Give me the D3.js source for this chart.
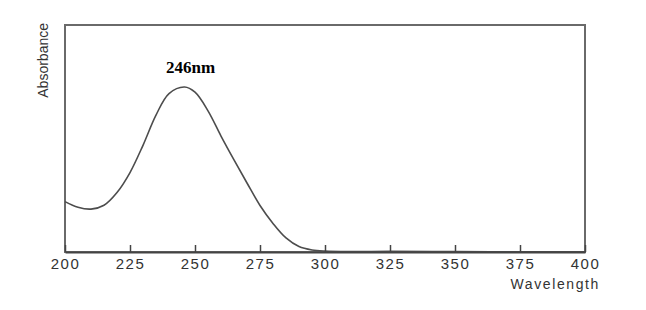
<!DOCTYPE html>
<html>
<head>
<meta charset="utf-8">
<script src="https://cdn.jsdelivr.net/npm/d3@7"></script>
<style>
  body { margin: 0; background: #fff; }
  svg { display: block; }
</style>
</head>
<body>
<script>
// spectrum
const wavelength = [200, 205, 210, 215, 220, 225, 230, 235, 240, 246, 250, 255, 260, 265, 270, 275, 280, 285, 290, 295, 300, 310, 325, 350, 375, 400];
const absorbance = [0.222, 0.197, 0.189, 0.206, 0.262, 0.350, 0.470, 0.603, 0.698, 0.727, 0.704, 0.622, 0.511, 0.406, 0.304, 0.205, 0.126, 0.062, 0.024, 0.009, 0.004, 0.002, 0.003, 0.002, 0.001, 0.001];
const xTicks = [200, 225, 250, 275, 300, 325, 350, 375, 400];
const peakLabel = "246nm";
const peakAt = 246;

var width = 646;
var height = 310;
var margin = {top: 25, right: 61, bottom: 58, left: 65};

var svg = d3.select("body").append("svg")
    .attr("width", width)
    .attr("height", height);

var x = d3.scaleLinear().domain([200, 400]).range([margin.left, width - margin.right]);
var y = d3.scaleLinear().domain([0, 1]).range([height - margin.bottom, margin.top]);

var data = wavelength.map(function(w, i) { return {w: w, a: absorbance[i]}; });

// frame
svg.append("rect")
  .attr("x", x(200))
  .attr("y", y(1))
  .attr("width", x(400) - x(200))
  .attr("height", y(0) - y(1))
  .attr("fill", "none")
  .attr("stroke", "#6a6a6a")
  .attr("stroke-width", 2);

// curve
var line = d3.line()
    .x(function(d) { return x(d.w); })
    .y(function(d) { return y(d.a); })
    .curve(d3.curveCatmullRom.alpha(0.5));

svg.append("path")
  .datum(data)
  .attr("d", line)
  .attr("fill", "none")
  .attr("stroke", "#4d4d4d")
  .attr("stroke-width", 1.6);

// x axis, ticks pointing in
var xAxis = svg.append("g")
  .attr("transform", "translate(0," + y(0) + ")")
  .call(d3.axisBottom(x).tickValues(xTicks).tickSizeInner(-7).tickSizeOuter(0).tickPadding(6));

xAxis.select(".domain")
  .attr("stroke", "#444")
  .attr("stroke-width", 2);

xAxis.selectAll(".tick line")
  .attr("stroke", "#444")
  .attr("stroke-width", 1.5);

xAxis.selectAll(".tick text")
  .attr("fill", "#333")
  .style("font-family", "'Liberation Sans', Arial, sans-serif")
  .style("font-size", "15px")
  .style("letter-spacing", "1.5px");

// axis titles
svg.append("text")
  .attr("x", 600)
  .attr("y", 289)
  .attr("text-anchor", "end")
  .attr("fill", "#333")
  .style("font-family", "'Liberation Sans', Arial, sans-serif")
  .style("font-size", "14px")
  .style("letter-spacing", "1.6px")
  .text("Wavelength");

svg.append("text")
  .attr("transform", "translate(48,23) rotate(-90)")
  .attr("text-anchor", "end")
  .attr("fill", "#333")
  .style("font-family", "'Liberation Sans', Arial, sans-serif")
  .style("font-size", "14px")
  .text("Absorbance");

// peak annotation
svg.append("text")
  .attr("x", x(peakAt) + 6)
  .attr("y", 73)
  .attr("text-anchor", "middle")
  .attr("fill", "#000")
  .style("font-family", "'Liberation Serif', 'Times New Roman', serif")
  .style("font-weight", "bold")
  .style("font-size", "17px")
  .text(peakLabel);
</script>
</body>
</html>
